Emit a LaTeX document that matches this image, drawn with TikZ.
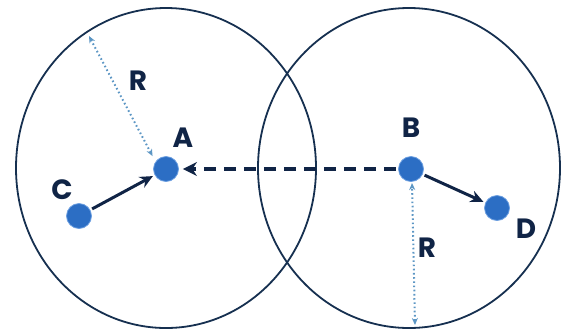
\documentclass[tikz,border=0pt]{standalone}
\usepackage{fontspec}
\setmainfont{Poppins}
\usepackage{tikz}
\usetikzlibrary{calc, arrows.meta, positioning}
\definecolor{ringnavy}{RGB}{22,48,80}
\definecolor{arrownavy}{RGB}{16,36,70}
\definecolor{dotblue}{RGB}{44,110,196}
\definecolor{dotrim}{RGB}{110,160,225}
\definecolor{radblue}{RGB}{92,150,196}
\tikzset{
    ring/.style={draw=ringnavy, line width=1.8bp},
    dot/.style={circle, fill=dotblue, draw=dotrim, line width=0.8bp, minimum size=25bp, inner sep=0pt},
    lbl/.style={text=arrownavy, font=\fontsize{28}{32}\selectfont\bfseries, inner sep=0pt},
    movearrow/.style={-{Stealth[length=13bp, width=12bp]}, line width=3bp, draw=arrownavy, shorten >=2bp, shorten <=2bp},
    pusharrow/.style={-{Stealth[length=14bp, width=14bp]}, line width=3.6bp, draw=arrownavy, dash pattern=on 12bp off 8bp, shorten >=4bp, shorten <=2bp},
    radarrow/.style={{Stealth[length=7bp, width=6bp]}-{Stealth[length=7bp, width=6bp]}, line width=2bp, draw=radblue, dash pattern=on 1.6bp off 2.6bp, shorten >=1bp}
}
\begin{document}
\begin{tikzpicture}[x=1bp,y=-1bp]
            \useasboundingbox (0,0) rectangle (561,329);
            % two ranges
            \draw[ring] (166,168) ellipse [x radius=150bp, y radius=160bp];
            \draw[ring] (409,168) ellipse [x radius=151bp, y radius=160bp];
            % the four nodes
            \node[dot] (A) at (166,169) {};
            \node[dot] (B) at (411,169) {};
            \node[dot] (C) at (79,216) {};
            \node[dot] (D) at (497,208) {};
            \node[lbl] (labA) at (183,138) {A};
            \node[lbl] (labB) at (411,128) {B};
            \node[lbl] (labC) at (62,190) {C};
            \node[lbl] (labD) at (526,229) {D};
            % radius marks
            \coordinate (rtop) at (89,36);
            \coordinate (rbot) at (415,325);
            \draw[radarrow] (rtop) -- ($(A)+(-13,-12)$);
            \draw[radarrow] (rbot) -- ($(B)+(1,13)$);
            \node[lbl] (labR1) at (138,81) {R};
            \node[lbl] (labR2) at (427,248) {R};
            % moves
            \draw[movearrow] (C) -- (A);
            \draw[movearrow] (B) -- (D);
            \draw[pusharrow] (B) -- (A);
        \end{tikzpicture}
\end{document}
